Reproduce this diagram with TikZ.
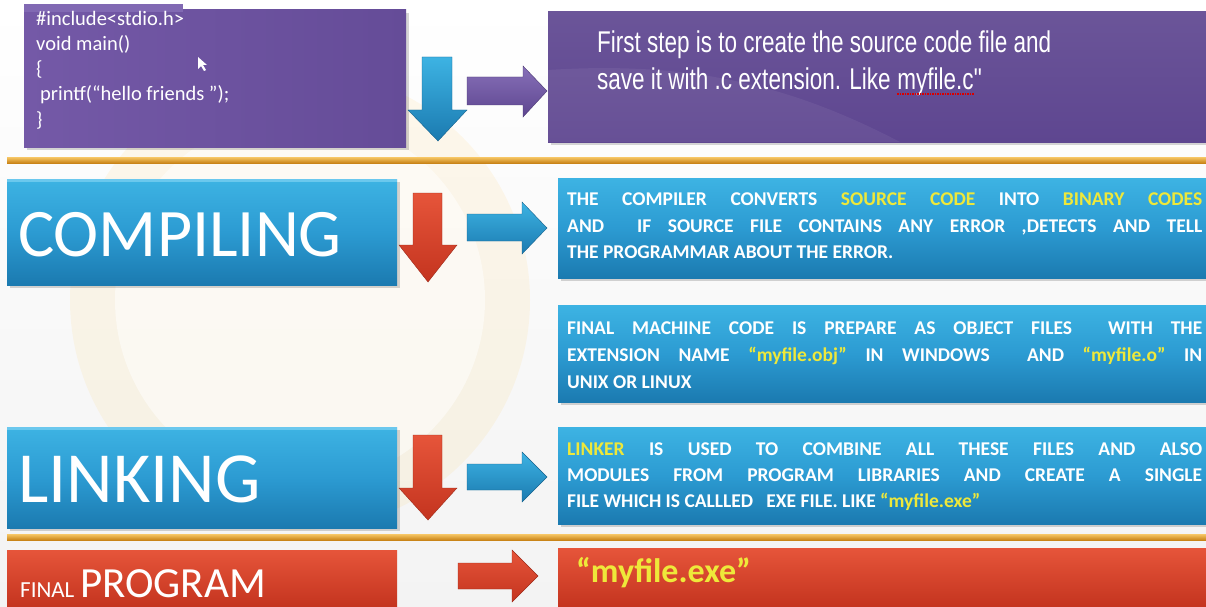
\documentclass[tikz,border=0pt]{standalone}
\usepackage{fontspec}
\setmainfont{Carlito}
\newfontfamily\arialfont{Liberation Sans}
\definecolor{purpA}{HTML}{7459A7}
\definecolor{purpD}{HTML}{654C98}
\definecolor{purpB}{HTML}{5E4690}
\definecolor{purpT}{HTML}{8770B8}
\definecolor{blueT}{HTML}{3DB3E3}
\definecolor{blueM}{HTML}{2C9BD2}
\definecolor{blueB}{HTML}{1B7AB0}
\definecolor{redT}{HTML}{E6553A}
\definecolor{redB}{HTML}{C4341F}
\definecolor{hl}{HTML}{EEE83A}
\definecolor{orngT}{HTML}{F7C766}
\definecolor{orngB}{HTML}{C98418}
\definecolor{bgA}{HTML}{F3F3F3}
\newcommand{\narrow}[1]{\scalebox{0.75}[1]{#1}}
\tikzset{
  shadowbox/.style={fill=black,opacity=0.16},
  purpbox/.style={left color=purpA,right color=purpD},
  purpboxR/.style={top color=purpB!92!white,bottom color=purpB},
  bluebox/.style={top color=blueT,bottom color=blueB,middle color=blueM},
  redbox/.style={top color=redT,bottom color=redB},
  sepline/.style={top color=orngT,bottom color=orngB},
  bluearrow/.style={top color=blueT,bottom color=blueB,draw=blueB!80!black,line width=0.4pt},
  redarrow/.style={top color=redT,bottom color=redB,draw=redB!80!black,line width=0.4pt},
  purparrow/.style={top color=purpT,bottom color=purpB,draw=purpB!80!black,line width=0.4pt},
  codetxt/.style={text=white,font=\fontsize{20.5}{24}\selectfont,anchor=base west,inner sep=0pt},
  steptxt/.style={text=white,font=\arialfont\fontsize{30}{34}\selectfont,anchor=base west,inner sep=0pt},
  captxt/.style={text=white,font=\bfseries\fontsize{19.5}{22}\selectfont,anchor=base west,inner sep=0pt},
}
\begin{document}
\begin{tikzpicture}[x=1pt,y=-1pt]
\useasboundingbox (0,0) rectangle (1206,607);
% background
\shade[top color=white,bottom color=bgA] (0,0) rectangle (1206,607);
\fill[orange!60!yellow,opacity=0.07] (300,300) circle (230);
\fill[white,opacity=0.5] (300,300) circle (185);

% ---------- row 1 : source code ----------
\fill[shadowbox] (27,13) rectangle (409,150);
\shade[purpbox] (24,10) rectangle (406,147);
\fill[purpT!70!purpA] (24,4) rectangle (183,12);
\node[codetxt] (c1) at (36,26) {\#include<stdio.h>};
\node[codetxt] (c2) at (36,51) {void main()};
\node[codetxt] (c3) at (36,76) {\{};
\node[codetxt] (c4) at (40,101) {printf(“hello friends ”);};
\node[codetxt] (c5) at (36,126) {\}};
% cursor
\fill[white] (198,57) -- (198,69) -- (201,66) -- (204,71) -- (206,70) -- (203,65) -- (207,65) -- cycle;

\fill[shadowbox] (551,15) rectangle (1206,145);
\shade[purpboxR] (548,12) rectangle (1206,142);
\fill[white,opacity=0.06] (548,70) .. controls (700,60) and (800,90) .. (900,142) -- (548,142) -- cycle;
\node[steptxt] (s1) at (597,53) {\narrow{First step is to create the source code file and}};
\node[steptxt] (s2) at (597,90) {\narrow{save it with .c extension. Like }};
\node[steptxt] (s3) at (s2.base east) {\narrow{myfile.c}};
\node[steptxt] (s4) at (s3.base east) {\narrow{"}};
\draw[red!85!black,dash pattern=on 1.5pt off 1pt,line width=1.3pt] ([shift={(0,4)}]s3.base west) -- ([shift={(0,4)}]s3.base east);

% arrows row 1
\shade[bluearrow] (422,57) -- (452,57) -- (452,110) -- (467,110) -- (438,141) -- (408,110) -- (422,110) -- cycle;
\shade[purparrow] (467,77) -- (523,77) -- (523,66) -- (547,91) -- (523,117) -- (523,105) -- (467,105) -- cycle;

% separator 1
\shade[sepline] (7,157) rectangle (1206,163);

% ---------- row 2 : compiling ----------
\fill[shadowbox] (10,182) rectangle (400,288);
\shade[bluebox] (7,179) rectangle (397,285);
\fill[white!60!cyan,opacity=0.5] (7,179) rectangle (397,182);
\node[text=white,font=\fontsize{68}{72}\selectfont,anchor=base west,inner sep=0pt] (comp) at (18,256) {COMPILING};

\shade[redarrow] (413,193) -- (442,193) -- (442,245) -- (457,245) -- (428,282) -- (399,245) -- (413,245) -- cycle;
\shade[bluearrow] (467,214) -- (522,214) -- (522,202) -- (547,228) -- (522,254) -- (522,241) -- (467,241) -- cycle;

\fill[shadowbox] (561,181) rectangle (1206,281);
\shade[bluebox] (558,178) rectangle (1206,278);
\node[captxt] (a1) at (567,205) {\makebox[635pt][s]{THE COMPILER CONVERTS \textcolor{hl}{SOURCE CODE} INTO \textcolor{hl}{BINARY CODES}}};
\node[captxt] (a2) at (567,232) {\makebox[635pt][s]{AND\ \ IF SOURCE FILE CONTAINS ANY ERROR ,DETECTS AND TELL}};
\node[captxt] (a3) at (567,258) {THE PROGRAMMAR ABOUT THE ERROR.};

\fill[shadowbox] (561,308) rectangle (1206,405);
\shade[bluebox] (558,305) rectangle (1206,402);
\node[captxt] (b1) at (567,334) {\makebox[635pt][s]{FINAL MACHINE CODE IS PREPARE AS OBJECT FILES\ \ WITH THE}};
\node[captxt] (b2) at (567,361) {\makebox[635pt][s]{EXTENSION NAME \textcolor{hl}{“myfile.obj”} IN WINDOWS\ \ AND \textcolor{hl}{“myfile.o”} IN}};
\node[captxt] (b3) at (567,388) {UNIX OR LINUX};

% ---------- row 3 : linking ----------
\fill[shadowbox] (10,430) rectangle (400,531);
\shade[bluebox] (7,427) rectangle (397,528);
\fill[white!60!cyan,opacity=0.5] (7,427) rectangle (397,430);
\node[text=white,font=\fontsize{72}{76}\selectfont,anchor=base west,inner sep=0pt] (link) at (18,502) {LINKING};

\shade[redarrow] (413,435) -- (442,435) -- (442,488) -- (457,488) -- (428,520) -- (399,488) -- (413,488) -- cycle;
\shade[bluearrow] (467,464) -- (522,464) -- (522,452) -- (547,477) -- (522,502) -- (522,490) -- (467,490) -- cycle;

\fill[shadowbox] (561,430) rectangle (1206,527);
\shade[bluebox] (558,427) rectangle (1206,524);
\node[captxt] (d1) at (567,455) {\makebox[635pt][s]{\textcolor{hl}{LINKER} IS USED TO COMBINE ALL THESE FILES AND ALSO}};
\node[captxt] (d2) at (567,481) {\makebox[635pt][s]{MODULES FROM PROGRAM LIBRARIES AND CREATE A SINGLE}};
\node[captxt] (d3) at (567,507) {FILE WHICH IS CALLLED\ \ \ EXE FILE. LIKE \textcolor{hl}{“myfile.exe”}};

% separator 2
\shade[sepline] (7,534) rectangle (1206,540);

% ---------- row 4 : final program ----------
\shade[redbox] (7,550) rectangle (397,607);
\node[text=white,anchor=base west,inner sep=0pt,font=\fontsize{23}{26}\selectfont] (fin) at (20,597) {FINAL};
\node[text=white,anchor=base west,inner sep=0pt,font=\fontsize{43}{46}\selectfont] (prog) at (80,597) {PROGRAM};

\shade[redarrow] (458,563) -- (512,563) -- (512,550) -- (538,576) -- (512,602) -- (512,589) -- (458,589) -- cycle;

\shade[redbox] (558,548) rectangle (1206,607);
\node[text=hl,anchor=base west,inner sep=0pt,font=\bfseries\fontsize{34}{38}\selectfont] (exe) at (576,582) {“myfile.exe”};
\end{tikzpicture}
\end{document}
